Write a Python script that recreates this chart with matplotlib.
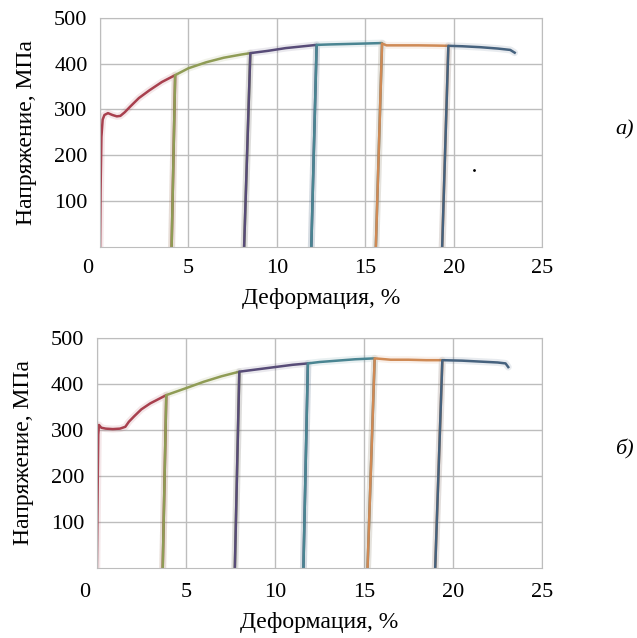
import matplotlib
matplotlib.use("Agg")
from matplotlib import pyplot as plt
from matplotlib import transforms

plt.rcParams['font.family'] = ['Liberation Serif', 'DejaVu Serif']

# (a) loading / unloading cycles, strain % and stress MPa
a_x = [
    [0, 0.03, 0.08, 0.15, 0.25, 0.45, 0.7, 0.95, 1.15, 1.4, 1.7, 2.2, 2.8, 3.5, 4.25, 4.05],
    [4.05, 4.25, 5, 6, 7, 8, 8.5, 8.15],
    [8.15, 8.5, 9.5, 10.5, 11.5, 12.25, 11.95],
    [11.95, 12.25, 13, 14, 15, 15.95, 15.6],
    [15.6, 15.95, 16.2, 17, 18, 19, 19.7, 19.35],
    [19.35, 19.7, 20.5, 21.5, 22.5, 23.2, 23.45],
]
a_y = [
    [0, 120, 240, 278, 288, 292, 288, 285, 286, 294, 306, 325, 342, 360, 375, 0],
    [0, 375, 390, 403, 413, 420, 423, 0],
    [0, 423, 428, 434, 438, 441, 0],
    [0, 441, 442, 443, 444, 445, 0],
    [0, 444, 440, 440, 440, 439.5, 439, 0],
    [0, 439, 438, 436, 433, 430, 424],
]

# (б)
b_x = [
    [0, 0.04, 0.08, 0.12, 0.25, 0.5, 0.9, 1.3, 1.6, 1.8, 2.1, 2.5, 3.0, 3.5, 3.9, 3.7],
    [3.7, 3.9, 5, 6, 7, 8.0, 7.75],
    [7.75, 8.0, 9, 10, 11, 11.85, 11.6],
    [11.6, 11.85, 12.5, 13.5, 14.5, 15.6, 15.2],
    [15.2, 15.6, 16.5, 17.5, 18.5, 19.4, 19.0],
    [19.0, 19.4, 20.5, 21.5, 22.5, 22.95, 23.1],
]
b_y = [
    [0, 150, 290, 311, 305, 303, 302, 303, 307, 318, 330, 345, 358, 368, 376, 0],
    [0, 376, 391, 405, 417, 427, 0],
    [0, 427, 432, 437, 442, 445, 0],
    [0, 445, 448, 451, 454, 456, 0],
    [0, 456, 453, 453, 452, 452, 0],
    [0, 452, 451, 449, 447, 445, 437],
]

colors = ['#a8404e', '#8f9c55', '#584c78', '#4a8592', '#cf8a55', '#46627e']

fig = plt.figure(figsize=(6.37, 6.38), dpi=100)
ax1 = fig.add_axes([0.157, 0.613, 0.694, 0.359])
ax2 = fig.add_axes([0.152, 0.110, 0.699, 0.360])

for ax, xs, ys in [(ax1, a_x, a_y), (ax2, b_x, b_y)]:
    for xx, yy, c in zip(xs, ys, colors):
        ax.plot(xx, yy, color=c, lw=5, alpha=0.12, solid_capstyle='round')
        ax.plot(xx, yy, color=c, lw=1.8, solid_joinstyle='round')
    ax.set_xlim(0, 25)
    ax.set_ylim(0, 500)
    ax.set_xticks([0, 5, 10, 15, 20, 25])
    ax.set_yticks([100, 200, 300, 400, 500])
    ax.grid(True, color='#bdbdbd', lw=1)
    ax.set_axisbelow(True)
    ax.tick_params(length=0, labelsize=16, pad=9)
    for s in ax.spines.values():
        s.set_color('#bdbdbd')
    ax.set_ylabel('Напряжение, МПа', fontsize=17, labelpad=12)

ax1.set_xlabel('Деформация, %', fontsize=17, labelpad=7)
ax2.tick_params(axis='x', pad=11)
ax2.set_xlabel('Деформация, %', fontsize=17, labelpad=7)

# the "0" label sits a bit left of the axis corner
for ax in (ax1, ax2):
    lab = ax.get_xticklabels()[0]
    lab.set_transform(lab.get_transform() + transforms.ScaledTranslation(-0.12, 0, fig.dpi_scale_trans))

# stray point in the scan
ax1.plot([21.15], [168], 'k.', ms=2)

fig.text(0.98, 0.796, 'a)', fontsize=16, style='italic', ha='center', va='center')
fig.text(0.98, 0.295, 'б)', fontsize=16, style='italic', ha='center', va='center')

plt.savefig('out.png', dpi=100)
